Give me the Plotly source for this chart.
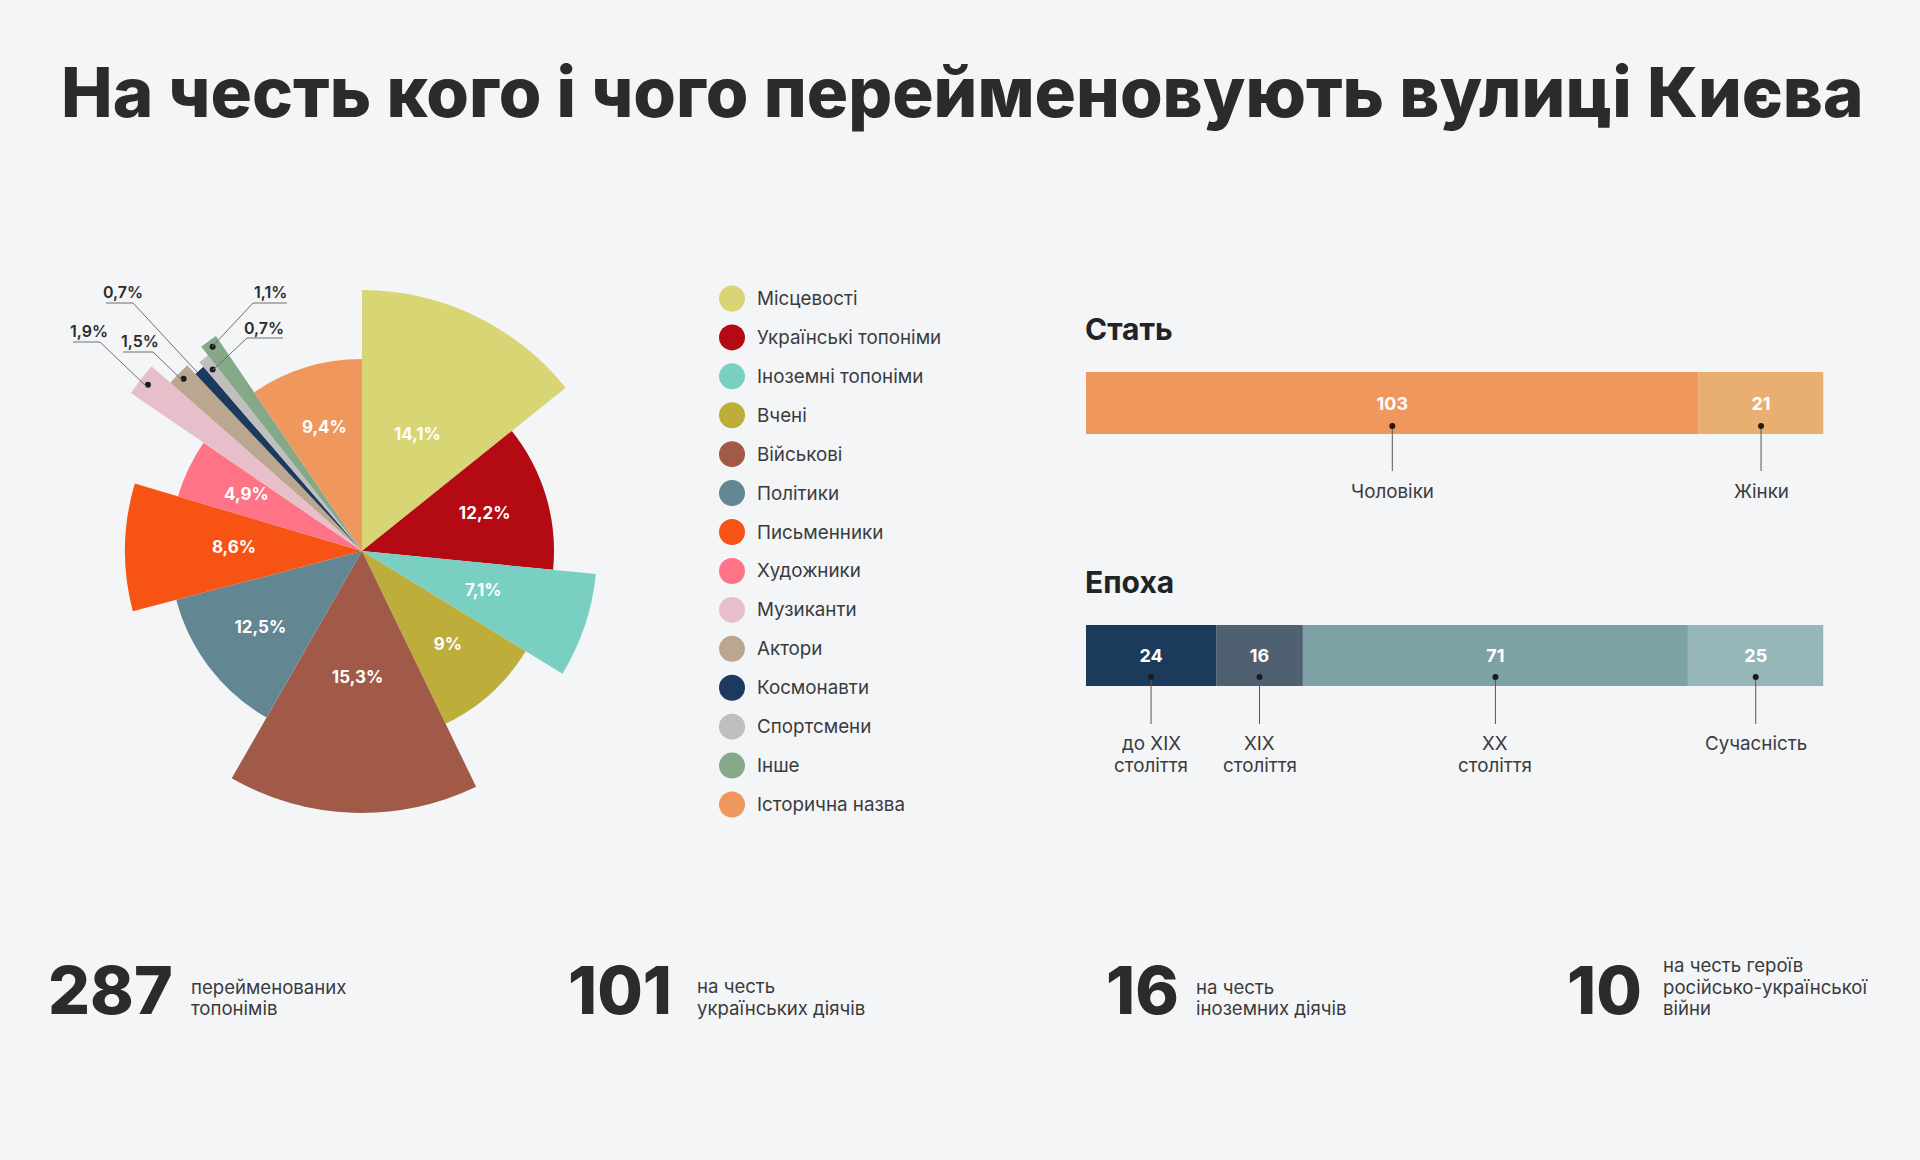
import plotly.graph_objects as go

W = 1920
H = 1160
FONT = "Inter"
INK = "#2a2b2d"

categories = ["Місцевості", "Українські топоніми", "Іноземні топоніми", "Вчені", "Військові",
              "Політики", "Письменники", "Художники", "Музиканти", "Актори",
              "Космонавти", "Спортсмени", "Інше", "Історична назва"]
shares = [14.1, 12.2, 7.1, 9, 15.3, 12.5, 8.6, 4.9, 1.9, 1.5, 0.7, 0.7, 1.1, 9.4]
share_labels = ["14,1%", "12,2%", "7,1%", "9%", "15,3%", "12,5%", "8,6%", "4,9%",
                "1,9%", "1,5%", "0,7%", "0,7%", "1,1%", "9,4%"]
radii = [261, 192, 235, 192, 262, 192, 237, 192, 280, 255, 243, 249, 260, 192]
colors = ["#d8d574", "#b30a14", "#7acfc3", "#bdae3c", "#a25a48", "#628792", "#f65314",
          "#ff7386", "#e7bfca", "#bba78f", "#1c3a5e", "#c0bfbd", "#84a888", "#f0975e"]

gender_names = ["Чоловіки", "Жінки"]
gender_values = [103, 21]
gender_colors = ["#f0975e", "#e8af70"]

era_names = ["до XIX|століття", "XIX|століття", "XX|століття", "Сучасність"]
era_values = [24, 16, 71, 25]
era_colors = ["#1c3a5c", "#4f6170", "#7da2a5", "#97b6b9"]

stat_numbers = ["287", "101", "16", "10"]
stat_captions = ["перейменованих|топонімів", "на честь|українських діячів",
                 "на честь|іноземних діячів", "на честь героїв|російсько-української|війни"]


def px(x):
    return x / W


def py(y):
    return 1 - y / H


def text(s, x, y, size, color=INK, weight=400, anchor="left"):
    return dict(text=s, x=px(x), y=py(y), xref="paper", yref="paper", showarrow=False,
                xanchor=anchor, yanchor="middle", align=anchor,
                font=dict(family=FONT, size=size, color=color, weight=weight))


# pie slices: width is the share, radius is drawn by hand in the original
scale = 360 / sum(shares)
widths = [s * scale for s in shares]
thetas = []
total = 0
for w in widths:
    thetas.append(total + w / 2)
    total += w

fig = go.Figure()
fig.add_trace(go.Barpolar(theta=thetas, r=radii, width=widths,
                          marker=dict(color=colors, line=dict(width=0)),
                          text=categories, hoverinfo="text", showlegend=False))

big = [i for i, s in enumerate(shares) if s > 2]
fig.add_trace(go.Scatterpolar(theta=[thetas[i] for i in big], r=[128] * len(big), mode="text",
                              text=[share_labels[i] for i in big],
                              textfont=dict(family=FONT, size=17, color="white", weight=700),
                              hoverinfo="skip", showlegend=False))

# leader dots on the thin slices
thin = [8, 9, 11, 12]
fig.add_trace(go.Scatterpolar(theta=[thetas[i] for i in thin], r=[271, 248, 235, 253], mode="markers",
                              marker=dict(size=6, color="#1e1a1a"),
                              hoverinfo="skip", showlegend=False))

shapes = []
annotations = [text("На честь кого і чого перейменовують вулиці Києва", 962, 92, 69, INK, 800, "center")]

# leaders: [label index, label x, label y, underline start, underline end, end of diagonal]
leaders = [
    (8, 89, 331, (73, 342), (100, 342), (147, 387)),
    (9, 140, 341, (123, 352), (153, 352), (182, 380)),
    (10, 123, 292, (106, 303), (133, 303), (197, 372)),
    (11, 264, 328, (283, 338), (247, 338), (213, 370)),
    (12, 270, 292, (287, 303), (253, 303), (212, 347)),
]
for i, lx, ly, a, b, c in leaders:
    annotations.append(text(share_labels[i], lx, ly, 16, INK, 600, "center"))
    shapes.append(dict(type="path", xref="paper", yref="paper",
                       path=f"M {px(a[0])} {py(a[1])} L {px(b[0])} {py(b[1])} L {px(c[0])} {py(c[1])}",
                       line=dict(color="#6d6f72", width=1)))

# legend
fig.add_trace(go.Scatter(x=[0.5] * len(categories), y=list(range(len(categories))), mode="markers",
                         xaxis="x3", yaxis="y3", marker=dict(size=26, color=colors, line=dict(width=0)),
                         text=categories, hoverinfo="text", showlegend=False))
for i, name in enumerate(categories):
    annotations.append(dict(text=name, x=px(755), y=i, xref="paper", yref="y3", showarrow=False,
                            xanchor="left", yanchor="middle",
                            font=dict(family=FONT, size=18.8, color="#3a3b3d")))


def stacked(names, values, cols, xa, ya, dot_y, line_end, label_y):
    start = 0
    for name, v, c in zip(names, values, cols):
        fig.add_trace(go.Bar(x=[v], y=[0.5], base=[start], width=[1], orientation="h", xaxis=xa, yaxis=ya,
                             marker=dict(color=c, line=dict(width=0)), text=[str(v)], textposition="inside",
                             insidetextanchor="middle", textangle=0,
                             textfont=dict(family=FONT, size=18, color="white", weight=700),
                             hoverinfo="x", showlegend=False))
        mid = start + v / 2
        shapes.append(dict(type="line", xref=xa, yref="paper", x0=mid, x1=mid, y0=py(dot_y), y1=py(line_end),
                           line=dict(color="#55585b", width=1)))
        shapes.append(dict(type="circle", xref=xa, yref="paper", xsizemode="pixel", ysizemode="pixel",
                           xanchor=mid, yanchor=py(dot_y), x0=-3, x1=3, y0=-3, y1=3,
                           fillcolor="#1e1a1a", line=dict(width=0)))
        for k, line in enumerate(name.split("|")):
            annotations.append(dict(text=line, x=mid, y=py(label_y + k * 22), xref=xa, yref="paper",
                                    showarrow=False, xanchor="center", yanchor="middle",
                                    font=dict(family=FONT, size=18.8, color="#3a3b3d")))
        start += v


stacked(gender_names, gender_values, gender_colors, "x", "y", 426, 471, 491)
stacked(era_names, era_values, era_colors, "x2", "y2", 677, 724, 743)

annotations.append(text("Стать", 1083, 329, 30, "#222326", 700))
annotations.append(text("Епоха", 1083, 582, 30, "#222326", 700))

# bottom figures
number_x = [46, 566, 1104, 1565]
caption_x = [189, 695, 1194, 1661]
caption_y = [987, 986, 987, 965]
for n, nx, cap, cx, cy in zip(stat_numbers, number_x, stat_captions, caption_x, caption_y):
    annotations.append(text(n, nx, 990, 66, INK, 800))
    for k, line in enumerate(cap.split("|")):
        annotations.append(text(line, cx, cy + k * 21.5, 18.6, "#3a3b3d"))

hidden = dict(visible=False, fixedrange=True)
fig.update_layout(
    width=W, height=H, margin=dict(l=0, r=0, t=0, b=0),
    paper_bgcolor="#f3f5f7", plot_bgcolor="#f3f5f7",
    barmode="overlay",
    polar=dict(domain=dict(x=[px(62), px(662)], y=[py(851), py(251)]),
               bgcolor="rgba(0,0,0,0)",
               angularaxis=dict(visible=False, rotation=90, direction="clockwise"),
               radialaxis=dict(visible=False, range=[0, 300])),
    xaxis=dict(hidden, domain=[px(1086), px(1823.5)], range=[0, sum(gender_values)]),
    yaxis=dict(hidden, domain=[py(434), py(372)], range=[0, 1]),
    xaxis2=dict(hidden, domain=[px(1086), px(1823.5)], range=[0, sum(era_values)]),
    yaxis2=dict(hidden, domain=[py(686), py(625)], range=[0, 1]),
    xaxis3=dict(hidden, domain=[px(712), px(752)], range=[0, 1]),
    yaxis3=dict(hidden, domain=[py(824), py(279)], range=[13.5, -0.5]),
    shapes=shapes, annotations=annotations,
)

fig.write_html("out.html", config=dict(displayModeBar=False),
               post_script="document.body.style.margin='0';")
